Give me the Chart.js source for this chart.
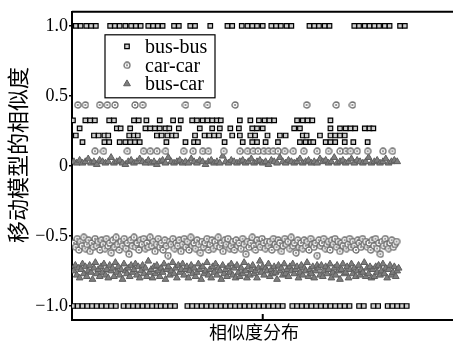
<!DOCTYPE html>
<html><head><meta charset="utf-8">
<script src="https://cdn.jsdelivr.net/npm/chart.js@4.4.1/dist/chart.umd.min.js"></script>
<style>html,body{margin:0;padding:0;background:#fff;overflow:hidden;width:453px;height:345px;}canvas{display:block;}</style>
</head><body>
<canvas id="c" width="480" height="345"></canvas>
<script>
const seriesNames = ['bus-bus', 'car-car', 'bus-car'];
const yTickValues = [-1, -0.5, 0, 0.5, 1];
const yTickLabels = ['\u22121.0', '\u22120.5', '0', '0.5', '1.0'];
const xTickValues = [200];
const xTitle = '相似度分布\u3000  ';
const yTitle = '\u3000移动模型的相似度';

// bus-bus: sample indices on each similarity level
const busBusLevels = [1.0, 0.325, 0.268, 0.217, 0.17, -1.0];
const busBusTop = [4,9,15,20,25,40,45,50,56,62,67,72,80,85,90,95,107,112,124,129,145,163,168,178,184,189,194,200,209,214,219,225,230,249,254,259,265,270,296,301,307,312,317,322,328,333,344,349];
const busBusRowA = [1,14,19,24,39,44,65,70,78,92,106,114,126,131,137,142,147,152,156,176,187,196,202,207,212,236,242,247,252,271];
const busBusRowB = [8,47,51,61,77,82,87,92,98,102,112,134,147,155,166,175,189,194,200,233,239,271,281,287,292,297,307,312,316];
const busBusRowC = [4,23,28,34,38,60,65,69,89,94,100,105,109,129,139,144,149,154,168,176,187,192,205,218,224,242,246,260,271,276,281,286];
const busBusRowD = [11,34,39,50,56,61,66,71,99,119,128,132,160,179,189,194,203,216,239,245,250,253,266,271,276,286,295,310];
const busBusBottom = [1,6,11,16,21,26,31,36,41,46,54,59,64,69,74,79,84,89,93,98,103,108,121,126,131,136,141,146,151,156,161,166,171,176,181,186,191,196,201,206,211,216,221,231,236,241,246,251,256,261,266,271,276,281,286,291,301,306,316,321,331,336,341,346,351];

// car-car
const carHighLevel = 0.435;
const carHigh = [6,14,29,37,45,66,74,119,142,171,246,277,294];
const carLowLevel = 0.105;
const carLow = [24,33,58,75,82,89,98,117,127,137,143,159,176,184,190,195,201,206,211,216,223,232,243,257,269,281,287,292,299,310,326,336];
const carBandStart = 2, carBandStep = 1.7;
const carBand = [
-0.55,-0.58,-0.52,-0.60,-0.54,-0.57,-0.51,-0.59,-0.56,-0.53,-0.61,-0.55,-0.58,-0.52,-0.57,-0.54,-0.60,-0.53,-0.56,-0.59,
-0.52,-0.57,-0.55,-0.62,-0.53,-0.58,-0.51,-0.56,-0.60,-0.54,-0.57,-0.52,-0.59,-0.55,-0.63,-0.53,-0.57,-0.51,-0.58,-0.55,
-0.60,-0.53,-0.56,-0.52,-0.59,-0.55,-0.58,-0.51,-0.57,-0.54,-0.61,-0.56,-0.52,-0.58,-0.55,-0.60,-0.53,-0.57,-0.64,-0.54,
-0.56,-0.52,-0.59,-0.55,-0.57,-0.53,-0.61,-0.56,-0.52,-0.58,-0.54,-0.60,-0.51,-0.57,-0.55,-0.59,-0.53,-0.56,-0.62,-0.54,
-0.58,-0.55,-0.52,-0.60,-0.56,-0.53,-0.59,-0.54,-0.57,-0.51,-0.58,-0.55,-0.61,-0.53,-0.56,-0.52,-0.59,-0.57,-0.54,-0.60,
-0.53,-0.57,-0.55,-0.59,-0.52,-0.56,-0.63,-0.54,-0.58,-0.55,-0.51,-0.57,-0.60,-0.53,-0.56,-0.58,-0.52,-0.55,-0.59,-0.54,
-0.57,-0.54,-0.60,-0.52,-0.56,-0.58,-0.53,-0.55,-0.61,-0.57,-0.52,-0.56,-0.54,-0.59,-0.51,-0.57,-0.55,-0.62,-0.53,-0.58,
-0.55,-0.59,-0.53,-0.57,-0.54,-0.60,-0.52,-0.56,-0.58,-0.55,-0.64,-0.53,-0.57,-0.55,-0.52,-0.59,-0.56,-0.54,-0.60,-0.53,
-0.56,-0.52,-0.58,-0.54,-0.61,-0.55,-0.57,-0.53,-0.59,-0.56,-0.52,-0.58,-0.54,-0.57,-0.60,-0.53,-0.55,-0.58,-0.52,-0.56,
-0.54,-0.58,-0.55,-0.60,-0.53,-0.57,-0.52,-0.59,-0.55,-0.63,-0.54,-0.57,-0.52,-0.56,-0.59,-0.55,-0.53,-0.58,-0.56,-0.54];

// bus-car
const busCarTopStart = 2, busCarTopStep = 3;
const busCarTop = [
0.03,0.02,0.04,0.02,0.03,0.05,0.02,0.03,0.01,0.04,0.03,0.02,0.03,0.06,0.02,0.03,0.04,0.02,0.01,0.03,
0.04,0.02,0.03,0.05,0.03,0.02,0.04,0.02,0.03,0.01,0.03,0.04,0.02,0.06,0.03,0.02,0.03,0.04,0.02,0.03,
0.02,0.05,0.03,0.02,0.04,0.03,0.01,0.03,0.04,0.02,0.03,0.02,0.07,0.03,0.02,0.04,0.03,0.02,0.03,0.04,
0.02,0.03,0.05,0.02,0.03,0.04,0.02,0.03,0.01,0.04,0.03,0.02,0.06,0.03,0.02,0.04,0.03,0.02,0.03,0.05,
0.02,0.03,0.04,0.02,0.03,0.02,0.05,0.03,0.04,0.02,0.03,0.06,0.02,0.03,0.04,0.02,0.03,0.05,0.02,0.04,
0.03,0.02,0.03,0.06,0.02,0.03,0.04,0.02,0.03,0.05,0.02,0.03,0.04,0.03];
const busCarBandStart = 2, busCarBandStep = 1.5;
const busCarBand = [
-0.75,-0.71,-0.78,-0.73,-0.80,-0.74,-0.70,-0.77,-0.72,-0.79,-0.75,-0.71,-0.76,-0.81,-0.73,-0.69,-0.77,-0.74,-0.79,
-0.72,-0.76,-0.70,-0.78,-0.74,-0.80,-0.71,-0.75,-0.73,-0.79,-0.69,-0.76,-0.72,-0.78,-0.74,-0.81,-0.70,-0.75,-0.77,
-0.73,-0.79,-0.71,-0.76,-0.74,-0.70,-0.78,-0.72,-0.80,-0.75,-0.71,-0.77,-0.73,-0.79,-0.68,-0.76,-0.74,-0.80,-0.72,
-0.77,-0.71,-0.75,-0.79,-0.73,-0.76,-0.70,-0.81,-0.74,-0.72,-0.78,-0.75,-0.69,-0.77,-0.73,-0.80,-0.71,-0.76,-0.74,
-0.70,-0.78,-0.74,-0.72,-0.80,-0.75,-0.71,-0.77,-0.73,-0.79,-0.76,-0.70,-0.74,-0.81,-0.72,-0.77,-0.75,-0.69,-0.78,
-0.74,-0.80,-0.72,-0.76,-0.70,-0.78,-0.73,-0.75,-0.81,-0.71,-0.77,-0.74,-0.79,-0.72,-0.76,-0.70,-0.78,-0.73,-0.80,
-0.71,-0.76,-0.79,-0.73,-0.77,-0.69,-0.75,-0.80,-0.72,-0.78,-0.74,-0.71,-0.77,-0.75,-0.80,-0.73,-0.68,-0.76,-0.72,
-0.78,-0.73,-0.75,-0.70,-0.79,-0.74,-0.77,-0.72,-0.76,-0.81,-0.71,-0.75,-0.73,-0.78,-0.70,-0.77,-0.74,-0.79,-0.72,
-0.75,-0.70,-0.77,-0.74,-0.72,-0.80,-0.76,-0.71,-0.78,-0.73,-0.75,-0.69,-0.79,-0.74,-0.77,-0.72,-0.80,-0.75,-0.71,
-0.73,-0.78,-0.71,-0.79,-0.75,-0.72,-0.77,-0.74,-0.70,-0.80,-0.76,-0.73,-0.78,-0.71,-0.75,-0.81,-0.74,-0.70,-0.77,
-0.76,-0.72,-0.80,-0.74,-0.70,-0.77,-0.73,-0.79,-0.75,-0.71,-0.78,-0.74,-0.76,-0.69,-0.79,-0.73,-0.77,-0.72,-0.80,
-0.74,-0.79,-0.72,-0.76,-0.71,-0.78,-0.75,-0.70,-0.77,-0.73,-0.80,-0.74,-0.71,-0.78,-0.76,-0.72,-0.79,-0.75,-0.73];

// ---- build point lists ----
const busBusRows = [busBusTop, busBusRowA, busBusRowB, busBusRowC, busBusRowD, busBusBottom];
const busBusPts = [];
busBusRows.forEach((xs, k) => xs.forEach(x => busBusPts.push({x: x, y: busBusLevels[k]})));
const carPts = [];
carHigh.forEach(x => carPts.push({x: x, y: carHighLevel}));
carLow.forEach(x => carPts.push({x: x, y: carLowLevel}));
carBand.forEach((y, i) => carPts.push({x: carBandStart + i * carBandStep, y: y}));
const busCarPts = [];
busCarTop.forEach((y, i) => busCarPts.push({x: busCarTopStart + i * busCarTopStep, y: y}));
busCarBand.forEach((y, i) => busCarPts.push({x: busCarBandStart + i * busCarBandStep, y: y}));

const serif = "'Liberation Serif', 'Noto Sans CJK SC', serif";

// ring-with-dot marker for car-car
const ring = document.createElement('canvas');
ring.width = 8; ring.height = 8;
(function () {
  const g = ring.getContext('2d');
  g.fillStyle = '#fff';
  g.beginPath(); g.arc(4, 4, 3, 0, Math.PI * 2); g.fill();
  g.strokeStyle = '#6e6e6e'; g.lineWidth = 1.3;
  g.beginPath(); g.arc(4, 4, 3, 0, Math.PI * 2); g.stroke();
  g.fillStyle = '#777';
  g.beginPath(); g.arc(4, 4, 1, 0, Math.PI * 2); g.fill();
})();

const styles = [
  {pointStyle: 'rect', radius: 3.2, bg: '#cfcfcf', border: '#000', bw: 1.2},
  {pointStyle: ring, radius: 3, bg: '#fff', border: '#6e6e6e', bw: 1.3},
  {pointStyle: 'triangle', radius: 3.9, bg: '#7e7e7e', border: '#5e5e5e', bw: 1}
];
const pointSets = [busBusPts, carPts, busCarPts];

function drawMarker(ctx, st, x, y) {
  ctx.save();
  if (st.pointStyle instanceof HTMLCanvasElement) {
    ctx.drawImage(st.pointStyle, x - st.pointStyle.width / 2, y - st.pointStyle.height / 2);
    ctx.restore();
    return;
  }
  ctx.fillStyle = st.bg; ctx.strokeStyle = st.border; ctx.lineWidth = st.bw;
  ctx.beginPath();
  if (st.pointStyle === 'rect') {
    const s = st.radius * Math.SQRT1_2;
    ctx.rect(x - s, y - s, 2 * s, 2 * s);
  } else {
    const r = st.radius;
    ctx.moveTo(x, y - r);
    ctx.lineTo(x + r * Math.sin(Math.PI * 2 / 3), y - r * Math.cos(Math.PI * 2 / 3));
    ctx.lineTo(x - r * Math.sin(Math.PI * 2 / 3), y - r * Math.cos(Math.PI * 2 / 3));
    ctx.closePath();
  }
  ctx.fill(); ctx.stroke();
  ctx.restore();
}

const framePlugin = {
  id: 'frame',
  afterDraw(chart) {
    const {ctx, chartArea: a, scales: {x}} = chart;
    ctx.save();
    ctx.strokeStyle = '#000'; ctx.lineWidth = 2;
    ctx.beginPath();
    ctx.moveTo(a.left, a.top); ctx.lineTo(a.right, a.top); ctx.lineTo(a.right, a.bottom);
    ctx.stroke();
    xTickValues.forEach(v => {
      const px = x.getPixelForValue(v);
      ctx.beginPath(); ctx.moveTo(px, a.bottom); ctx.lineTo(px, a.bottom - 6); ctx.stroke();
    });
    // legend
    const bx = a.left + 33, by = a.top + 23, bw = 110, bh = 63;
    ctx.fillStyle = '#fff';
    ctx.fillRect(bx, by, bw, bh);
    ctx.lineWidth = 1.2;
    ctx.strokeRect(bx, by, bw, bh);
    const rows = [11.5, 30.5, 49];
    ctx.font = '20px ' + serif;
    ctx.textBaseline = 'middle';
    ctx.textAlign = 'left';
    seriesNames.forEach((n, i) => {
      drawMarker(ctx, styles[i], bx + 22, by + rows[i]);
      ctx.fillStyle = '#000';
      ctx.fillText(n, bx + 40, by + rows[i] + 1);
    });
    ctx.restore();
  }
};

new Chart(document.getElementById('c'), {
  type: 'scatter',
  data: {
    datasets: seriesNames.map((n, i) => ({
      label: n,
      data: pointSets[i],
      pointStyle: styles[i].pointStyle,
      pointRadius: styles[i].radius,
      pointBackgroundColor: styles[i].bg,
      pointBorderColor: styles[i].border,
      pointBorderWidth: styles[i].bw,
      showLine: false
    }))
  },
  options: {
    responsive: false,
    animation: false,
    devicePixelRatio: 1,
    events: [],
    layout: {padding: {top: 9, right: 17, left: 0, bottom: 0}},
    plugins: {legend: {display: false}, tooltip: {enabled: false}},
    scales: {
      x: {
        type: 'linear', min: 0, max: 410,
        afterBuildTicks: s => { s.ticks = xTickValues.map(v => ({value: v})); },
        afterFit: s => { s.height = 25; },
        ticks: {display: false},
        grid: {display: false},
        border: {display: true, color: '#000', width: 2},
        title: {display: true, text: xTitle, color: '#000', font: {family: serif, size: 18}, padding: {top: 0, bottom: 0}}
      },
      y: {
        type: 'linear', min: -1.1, max: 1.1,
        afterBuildTicks: s => { s.ticks = yTickValues.map(v => ({value: v})); },
        afterFit: s => { s.width = 72; },
        ticks: {
          color: '#000', padding: 1, font: {family: serif, size: 18},
          callback: (v) => { const k = yTickValues.indexOf(v); return k >= 0 ? yTickLabels[k] : ''; }
        },
        grid: {display: true, drawOnChartArea: false, drawTicks: true, tickLength: 3, color: '#000', lineWidth: 1.5},
        border: {display: true, color: '#000', width: 2},
        title: {display: true, text: yTitle, color: '#000', font: {family: serif, size: 22}, padding: {top: 7, bottom: 0}}
      }
    }
  },
  plugins: [framePlugin]
});
</script>
</body></html>
